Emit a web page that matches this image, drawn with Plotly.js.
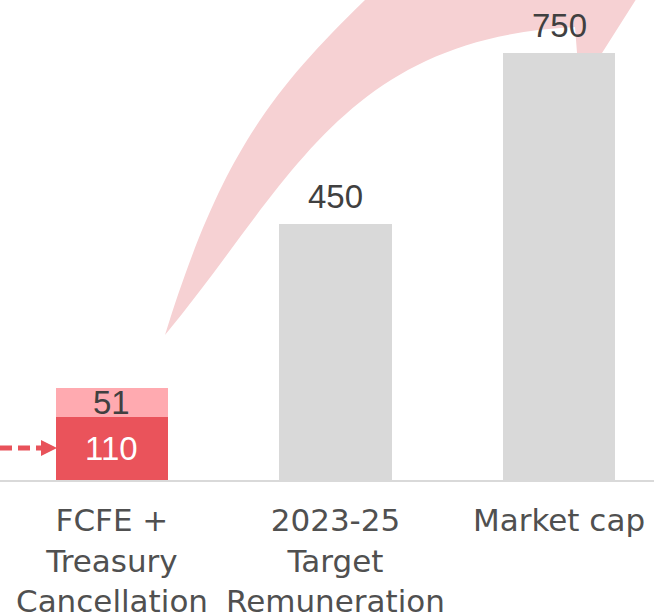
<!DOCTYPE html>
<html><head><meta charset="utf-8">
<script src="https://cdn.plot.ly/plotly-3.0.1.min.js"></script>
<style>html,body{margin:0;padding:0;background:#fff;overflow:hidden}#chart{width:654px;height:614px;}</style>
</head><body><div id="chart"></div>
<script>
// ---- data ----
const categories = ["FCFE +<br>Treasury<br>Cancellation", "2023-25<br>Target<br>Remuneration", "Market cap"];
const fcfeCategory = [categories[0]];
const fcfeValues = [110];
const treasuryValues = [51];
const totalCategories = [categories[1], categories[2]];
const totalValues = [450, 750];

// ---- layout helpers (pixel -> paper) for decorative shapes ----
const W = 654, PH = 480;
const px = x => (x / W).toFixed(4);
const py = y => ((PH - y) / PH).toFixed(4);
function path(cmds) {
  return cmds.map(c => c[0] + ' ' + c.slice(1).reduce((s, v, i) => s + (i % 2 === 0 ? px(v) : ',' + py(v) + ' '), '')).join(' ') + ' Z';
}

const arrowPath = path([
  ['M', 165, 335],
  ['C', 219, 161, 267.5, 94.5, 365, 0],
  ['L', 430, -63],
  ['L', 680, -70],
  ['L', 602, 53],
  ['L', 582, 80],
  ['L', 577, 53],
  ['L', 575, 27],
  ['C', 344, 38, 290, 184, 165, 335]
]);

const valueFont = {family: 'Liberation Sans, Arial, sans-serif', size: 33};

const traces = [
  {type: 'bar', x: fcfeCategory, y: fcfeValues, marker: {color: '#EA535B'}, hoverinfo: 'skip'},
  {type: 'bar', x: fcfeCategory, y: treasuryValues, marker: {color: '#FFAAB0'}, hoverinfo: 'skip'},
  {type: 'bar', x: totalCategories, y: totalValues, marker: {color: '#D9D9D9'}, hoverinfo: 'skip'}
];

const annotations = [];
// inside labels of stacked bar (centred in each segment)
fcfeValues.forEach((v, i) => annotations.push({
  x: fcfeCategory[i], y: v / 2, xref: 'x', yref: 'y', text: String(v), showarrow: false,
  yanchor: 'middle', yshift: 0, font: Object.assign({color: '#ffffff'}, valueFont)}));
treasuryValues.forEach((v, i) => annotations.push({
  x: fcfeCategory[i], y: fcfeValues[i] + v / 2, xref: 'x', yref: 'y', text: String(v), showarrow: false,
  yanchor: 'middle', yshift: 0, font: Object.assign({color: '#404040'}, valueFont)}));
// outside labels
totalCategories.forEach((c, i) => annotations.push({
  x: c, y: totalValues[i], xref: 'x', yref: 'y', text: String(totalValues[i]),
  showarrow: false, yanchor: 'middle', yshift: 27, font: Object.assign({color: '#404040'}, valueFont)}));

const layout = {
  width: 654, height: 614,
  margin: {l: 0, r: 0, t: 0, b: 134, pad: 0},
  paper_bgcolor: '#ffffff', plot_bgcolor: '#ffffff',
  barmode: 'stack', bargap: 0.495, showlegend: false,
  xaxis: {type: 'category', categoryorder: 'array', categoryarray: categories,
    range: [-0.501, 2.425], showline: true, linecolor: '#D9D9D9', linewidth: 2,
    ticks: '', ticklabelstandoff: 12, showgrid: false, zeroline: false, fixedrange: true,
    tickfont: {family: 'DejaVu Sans, sans-serif', size: 31, color: '#505050'}},
  yaxis: {range: [0, 843], visible: false, showgrid: false, zeroline: false, fixedrange: true},
  shapes: [
    {type: 'path', xref: 'paper', yref: 'paper', path: arrowPath, fillcolor: '#F6D1D3',
     line: {width: 0}, layer: 'below'},
    {type: 'line', xref: 'paper', yref: 'paper', x0: px(0), y0: py(448), x1: px(44), y1: py(448),
     line: {color: '#E8525A', width: 5, dash: '12px,6px'}},
    {type: 'path', xref: 'paper', yref: 'paper',
     path: path([['M', 41, 440], ['L', 57, 448], ['L', 41, 456]]),
     fillcolor: '#E8525A', line: {width: 0}}
  ],
  annotations: annotations
};

Plotly.newPlot('chart', traces, layout, {displayModeBar: false, staticPlot: true});
</script>
</body></html>
